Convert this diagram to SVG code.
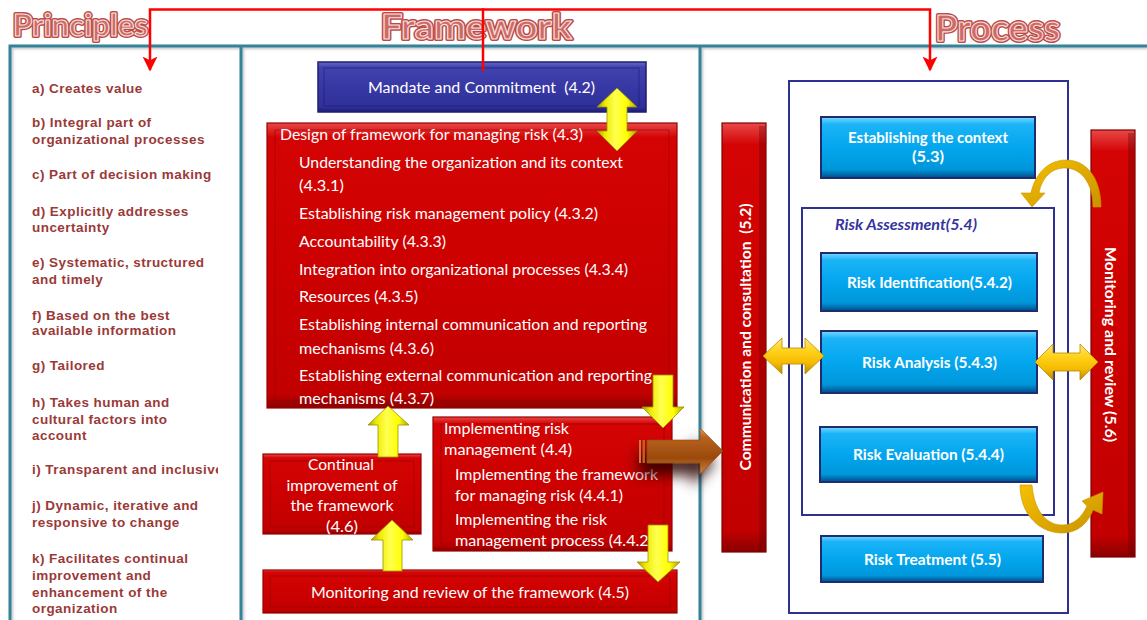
<svg xmlns="http://www.w3.org/2000/svg" width="1147" height="620" viewBox="0 0 1147 620">
  <defs>
    <style>
      .panel { fill: none; stroke: #31849B; stroke-width: 3; }
      .hd-back { font-family: Lato, "Liberation Sans", sans-serif; font-weight: 700; fill: #C0504D; stroke: #BC4A47; stroke-width: 4; stroke-linejoin: round; }
      .hd-front { font-family: Lato, "Liberation Sans", sans-serif; font-weight: 700; fill: #CD6A67; stroke: #F7E0DF; stroke-width: 1.1; stroke-linejoin: round; }
      .pr { font-family: "Liberation Sans", Arial, sans-serif; font-weight: 700; font-size: 13.5px; fill: #9A3A38; letter-spacing: 0.45px; }
      .wt { font-family: Lato, "Liberation Sans", sans-serif; font-size: 16px; fill: #FFFFFF; }
      .wb { font-family: Lato, "Liberation Sans", sans-serif; font-size: 16px; font-weight: 700; fill: #FFFFFF; }
      .ra { font-family: Lato, "Liberation Sans", sans-serif; font-size: 15px; font-weight: 700; font-style: italic; fill: #34349C; }
      .inner-red { fill: none; stroke: #8E0000; stroke-opacity: 0.55; stroke-width: 1; }
      .inner-navy { fill: none; stroke: #1A1A70; stroke-opacity: 0.6; stroke-width: 1; }
      .red-box { fill: url(#redFace); stroke: #9A0000; stroke-width: 1.2; }
      .blue-box { fill: url(#blueFace); stroke: #1F2D6F; stroke-width: 2; }
      .frame { fill: none; stroke: #2E3192; stroke-width: 2; }
      .red-line { fill: none; stroke: #FF0000; stroke-width: 2.5; }
      .yel { fill: url(#yellowV); stroke: #9C9200; stroke-width: 0.8; stroke-linejoin: round; }
      .gold { fill: url(#goldH); stroke: #B88A00; stroke-width: 0.8; stroke-linejoin: round; }
      .curve { fill: url(#goldCurve); stroke: #C79300; stroke-width: 0.6; }
    </style>
    <linearGradient id="redFace" x1="0" y1="0" x2="0" y2="1">
      <stop offset="0" stop-color="#E84848"/>
      <stop offset="0.05" stop-color="#D40404"/>
      <stop offset="0.5" stop-color="#CC0000"/>
      <stop offset="0.95" stop-color="#C20000"/>
      <stop offset="1" stop-color="#8A0000"/>
    </linearGradient>
    <linearGradient id="blueFace" x1="0" y1="0" x2="0" y2="1">
      <stop offset="0" stop-color="#7AD8FF"/>
      <stop offset="0.12" stop-color="#1CB4F7"/>
      <stop offset="0.5" stop-color="#03A6EE"/>
      <stop offset="0.86" stop-color="#0096DA"/>
      <stop offset="1" stop-color="#004C88"/>
    </linearGradient>
    <linearGradient id="navyFace" x1="0" y1="0" x2="0" y2="1">
      <stop offset="0" stop-color="#6A6AC8"/>
      <stop offset="0.1" stop-color="#4242AE"/>
      <stop offset="0.5" stop-color="#3838A4"/>
      <stop offset="0.9" stop-color="#30309A"/>
      <stop offset="1" stop-color="#1C1C78"/>
    </linearGradient>
    <linearGradient id="yellowV" x1="0" y1="0" x2="1" y2="0">
      <stop offset="0" stop-color="#A89E00"/>
      <stop offset="0.2" stop-color="#EDEB00"/>
      <stop offset="0.45" stop-color="#FFFF50"/>
      <stop offset="0.75" stop-color="#FFFF00"/>
      <stop offset="1" stop-color="#ADA400"/>
    </linearGradient>
    <linearGradient id="goldH" x1="0" y1="0" x2="0" y2="1">
      <stop offset="0" stop-color="#FFE680"/>
      <stop offset="0.35" stop-color="#FFD21A"/>
      <stop offset="0.7" stop-color="#F5BA00"/>
      <stop offset="1" stop-color="#B88A00"/>
    </linearGradient>
    <linearGradient id="goldCurve" x1="0" y1="0" x2="1" y2="1">
      <stop offset="0" stop-color="#F6C000"/>
      <stop offset="1" stop-color="#C89400"/>
    </linearGradient>
    <linearGradient id="brown" x1="0" y1="0" x2="0" y2="1">
      <stop offset="0" stop-color="#E4975E"/>
      <stop offset="0.2" stop-color="#B8621E"/>
      <stop offset="0.65" stop-color="#9A4A0C"/>
      <stop offset="1" stop-color="#D2823E"/>
    </linearGradient>
    <filter id="softShadow" x="-20%" y="-20%" width="140%" height="140%">
      <feDropShadow dx="1.5" dy="1.5" stdDeviation="1" flood-color="#777777" flood-opacity="0.45"/>
    </filter>
    <filter id="arrowShadow" x="-60%" y="-80%" width="220%" height="300%">
      <feDropShadow dx="-8" dy="12" stdDeviation="7" flood-color="#2A0000" flood-opacity="0.85"/>
    </filter>
    <marker id="redHead" viewBox="0 0 10 10" refX="9" refY="5" markerWidth="15" markerHeight="15" markerUnits="userSpaceOnUse" orient="auto">
      <path d="M0,0 L10,5 L0,10 L2.5,5 Z" fill="#FF0000"/>
    </marker>
    <clipPath id="principlesClip">
      <rect x="11" y="46" width="207" height="574"/>
    </clipPath>
  </defs>

  <rect width="1147" height="620" fill="#FFFFFF"/>

  <!-- panel frames -->
  <g id="panels" filter="url(#softShadow)">
    <path class="panel" d="M10,622 V46 H1147"/>
    <path class="panel" d="M241,46 V622"/>
    <path class="panel" d="M700,46 V622"/>
  </g>

  <!-- section titles -->
  <g id="titles">
    <text class="hd-back" x="13" y="36" font-size="30" textLength="135" lengthAdjust="spacingAndGlyphs">Principles</text>
    <text class="hd-front" x="13" y="36" font-size="30" textLength="135" lengthAdjust="spacingAndGlyphs">Principles</text>
    <text class="hd-back" x="381" y="39" font-size="34" textLength="191" lengthAdjust="spacingAndGlyphs">Framework</text>
    <text class="hd-front" x="381" y="39" font-size="34" textLength="191" lengthAdjust="spacingAndGlyphs">Framework</text>
    <text class="hd-back" x="935" y="41" font-size="37" textLength="125" lengthAdjust="spacingAndGlyphs">Process</text>
    <text class="hd-front" x="935" y="41" font-size="37" textLength="125" lengthAdjust="spacingAndGlyphs">Process</text>
  </g>

  <!-- principles list -->
  <g id="principles" clip-path="url(#principlesClip)">
    <text class="pr" x="32" y="93">a) Creates value</text>
    <text class="pr" x="32" y="127">b) Integral part of</text>
    <text class="pr" x="32" y="144">organizational processes</text>
    <text class="pr" x="32" y="179">c) Part of decision making</text>
    <text class="pr" x="32" y="216">d) Explicitly addresses</text>
    <text class="pr" x="32" y="232">uncertainty</text>
    <text class="pr" x="32" y="267">e) Systematic, structured</text>
    <text class="pr" x="32" y="284">and timely</text>
    <text class="pr" x="32" y="320">f) Based on the best</text>
    <text class="pr" x="32" y="335">available information</text>
    <text class="pr" x="32" y="370">g) Tailored</text>
    <text class="pr" x="32" y="407">h) Takes human and</text>
    <text class="pr" x="32" y="424">cultural factors into</text>
    <text class="pr" x="32" y="440">account</text>
    <text class="pr" x="32" y="474">i) Transparent and inclusive</text>
    <text class="pr" x="32" y="510">j) Dynamic, iterative and</text>
    <text class="pr" x="32" y="527">responsive to change</text>
    <text class="pr" x="32" y="563">k) Facilitates continual</text>
    <text class="pr" x="32" y="580">improvement and</text>
    <text class="pr" x="32" y="597">enhancement of the</text>
    <text class="pr" x="32" y="613">organization</text>
  </g>

  <!-- framework nodes -->
  <g id="mandate">
    <rect x="318" y="62" width="328" height="50" fill="url(#navyFace)" stroke="#1E1E6E" stroke-width="1.5"/>
    <rect class="inner-navy" x="324" y="68" width="315" height="38"/>
    <text class="wt" x="368" y="93" xml:space="preserve" textLength="227" lengthAdjust="spacingAndGlyphs">Mandate and Commitment  (4.2)</text>
  </g>

  <g id="design">
    <rect class="red-box" x="267" y="123" width="410" height="285"/>
    <rect class="inner-red" x="275" y="130" width="394" height="271"/>
    <text class="wt" x="280" y="140" textLength="303" lengthAdjust="spacingAndGlyphs">Design of framework for managing risk (4.3)</text>
    <text class="wt" x="299" y="168" textLength="324" lengthAdjust="spacingAndGlyphs">Understanding the organization and its context</text>
    <text class="wt" x="299" y="191" textLength="45" lengthAdjust="spacingAndGlyphs">(4.3.1)</text>
    <text class="wt" x="299" y="219" textLength="299" lengthAdjust="spacingAndGlyphs">Establishing risk management policy (4.3.2)</text>
    <text class="wt" x="299" y="247" textLength="147" lengthAdjust="spacingAndGlyphs">Accountability (4.3.3)</text>
    <text class="wt" x="299" y="275" textLength="329" lengthAdjust="spacingAndGlyphs">Integration into organizational processes (4.3.4)</text>
    <text class="wt" x="299" y="302" textLength="119" lengthAdjust="spacingAndGlyphs">Resources (4.3.5)</text>
    <text class="wt" x="299" y="330" textLength="348" lengthAdjust="spacingAndGlyphs">Establishing internal communication and reporting</text>
    <text class="wt" x="299" y="354" textLength="135" lengthAdjust="spacingAndGlyphs">mechanisms (4.3.6)</text>
    <text class="wt" x="299" y="381" textLength="353" lengthAdjust="spacingAndGlyphs">Establishing external communication and reporting</text>
    <text class="wt" x="299" y="404" textLength="135" lengthAdjust="spacingAndGlyphs">mechanisms (4.3.7)</text>
  </g>

  <g id="implementing">
    <rect class="red-box" x="433" y="417" width="239" height="134"/>
    <rect class="inner-red" x="441" y="424" width="223" height="120"/>
    <text class="wt" x="444" y="434" textLength="125" lengthAdjust="spacingAndGlyphs">Implementing risk</text>
    <text class="wt" x="444" y="455" textLength="128" lengthAdjust="spacingAndGlyphs">management (4.4)</text>
    <text class="wt" x="455" y="480" textLength="203" lengthAdjust="spacingAndGlyphs">Implementing the framework</text>
    <text class="wt" x="455" y="501" textLength="168" lengthAdjust="spacingAndGlyphs">for managing risk (4.4.1)</text>
    <text class="wt" x="455" y="525" textLength="152" lengthAdjust="spacingAndGlyphs">Implementing the risk</text>
    <text class="wt" x="455" y="546" textLength="198" lengthAdjust="spacingAndGlyphs">management process (4.4.2)</text>
  </g>

  <g id="continual">
    <rect class="red-box" x="263" y="454" width="158" height="80"/>
    <rect class="inner-red" x="270" y="461" width="144" height="66"/>
    <text class="wt" x="341" y="470" text-anchor="middle" textLength="66" lengthAdjust="spacingAndGlyphs">Continual</text>
    <text class="wt" x="342" y="491" text-anchor="middle" textLength="111" lengthAdjust="spacingAndGlyphs">improvement of</text>
    <text class="wt" x="342" y="511" text-anchor="middle" textLength="103" lengthAdjust="spacingAndGlyphs">the framework</text>
    <text class="wt" x="342" y="532" text-anchor="middle" textLength="32" lengthAdjust="spacingAndGlyphs">(4.6)</text>
  </g>

  <g id="monitoring-framework">
    <rect class="red-box" x="263" y="570" width="414" height="43"/>
    <rect class="inner-red" x="270" y="576" width="400" height="31"/>
    <text class="wt" x="470" y="598" text-anchor="middle" textLength="318" lengthAdjust="spacingAndGlyphs">Monitoring and review of the framework (4.5)</text>
  </g>

  <!-- process nodes -->
  <g id="communication">
    <rect x="722" y="123" width="44" height="429" fill="url(#redFace)" stroke="#7E0000" stroke-width="1.2"/>
    <rect x="759" y="126" width="6" height="424" fill="#5A0000" fill-opacity="0.3"/>
    <text class="wb" transform="translate(751,337) rotate(-90)" text-anchor="middle" xml:space="preserve" textLength="267" lengthAdjust="spacingAndGlyphs">Communication and consultation  (5.2)</text>
  </g>

  <g id="process-frame">
    <rect class="frame" x="789" y="81" width="279" height="532"/>
  </g>

  <g id="establishing-context">
    <rect class="blue-box" x="821" y="117" width="214" height="61"/>
    <text class="wb" x="928" y="143" text-anchor="middle" textLength="160" lengthAdjust="spacingAndGlyphs">Establishing the context</text>
    <text class="wb" x="928" y="162" text-anchor="middle" textLength="32" lengthAdjust="spacingAndGlyphs">(5.3)</text>
  </g>

  <g id="risk-assessment">
    <rect class="frame" x="802" y="208" width="252" height="307"/>
    <text class="ra" x="835" y="230" textLength="142" lengthAdjust="spacingAndGlyphs">Risk Assessment(5.4)</text>
  </g>

  <g id="risk-identification">
    <rect class="blue-box" x="821" y="253" width="216" height="58"/>
    <text class="wb" x="929.5" y="288" text-anchor="middle" textLength="165" lengthAdjust="spacingAndGlyphs">Risk Identification(5.4.2)</text>
  </g>

  <g id="risk-analysis">
    <rect class="blue-box" x="821" y="331" width="216" height="62"/>
    <text class="wb" x="929.5" y="368" text-anchor="middle" textLength="135" lengthAdjust="spacingAndGlyphs">Risk Analysis (5.4.3)</text>
  </g>

  <g id="risk-evaluation">
    <rect class="blue-box" x="820" y="427" width="217" height="55"/>
    <text class="wb" x="928.5" y="460" text-anchor="middle" textLength="151" lengthAdjust="spacingAndGlyphs">Risk Evaluation (5.4.4)</text>
  </g>

  <g id="risk-treatment">
    <rect class="blue-box" x="821" y="536" width="222" height="46"/>
    <text class="wb" x="932.5" y="565" text-anchor="middle" textLength="137" lengthAdjust="spacingAndGlyphs">Risk Treatment (5.5)</text>
  </g>

  <g id="monitoring-review">
    <rect x="1091" y="130" width="44" height="427" fill="url(#redFace)" stroke="#7E0000" stroke-width="1.2"/>
    <rect x="1128" y="133" width="6" height="422" fill="#5A0000" fill-opacity="0.3"/>
    <text class="wb" transform="translate(1105,344.5) rotate(90)" text-anchor="middle" textLength="195" lengthAdjust="spacingAndGlyphs">Monitoring and review (5.6)</text>
  </g>

  <!-- connectors -->
  <g id="connectors">
    <path class="red-line" d="M483,71 V9.5"/>
    <path class="red-line" d="M484,9.5 H150 V70" marker-end="url(#redHead)"/>
    <path class="red-line" d="M482,9.5 H930 V70" marker-end="url(#redHead)"/>

    <polygon class="yel" points="617,88 637,107 627,107 627,131 637,131 617,151 597,131 607,131 607,107 597,107"/>
    <polygon class="yel" points="653,375 673,375 673,407 684,407 663,428 642,407 653,407"/>
    <polygon class="yel" points="388,406 409,425 398,425 398,457 378,457 378,425 368,425"/>
    <polygon class="yel" points="392,520 413,540 402,540 402,571 383,571 383,540 371,540"/>
    <polygon class="yel" points="648,525 668,525 668,562 680,562 658,582 637,562 648,562"/>

    <g filter="url(#arrowShadow)">
      <polygon points="647,440 700,440 700,428 723,451 700,474 700,463 647,463" fill="url(#brown)" stroke="#8A4A1A" stroke-width="0.6"/>
    </g>
    <rect x="639" y="440" width="2" height="23" fill="#C87A40"/>
    <rect x="642.5" y="440" width="2.5" height="23" fill="#B8621E"/>

    <polygon class="gold" points="763,356 782,338 782,348 805,348 805,338 824,356 805,374 805,364 782,364 782,374"/>
    <polygon class="gold" points="1035,362 1053,344 1053,353 1080,353 1080,344 1098,362 1080,380 1080,371 1053,371 1053,380"/>

    <path class="curve" d="M1101,207 C1101,180 1088,160 1066,160 C1048,160 1035,174 1031,193 L1021,193 L1032,207 L1045,193 L1039,193 C1042,178 1051,168 1065,168 C1081,168 1093,183 1093,207 Z"/>
    <path class="curve" d="M1020,485 C1020,515 1040,533 1062,533 C1078,533 1088,523 1093,510 L1102,514 L1103,492 L1082,501 L1087,506 C1082,517 1074,525 1062,525 C1046,525 1034,510 1032,485 Z"/>
  </g>
</svg>
